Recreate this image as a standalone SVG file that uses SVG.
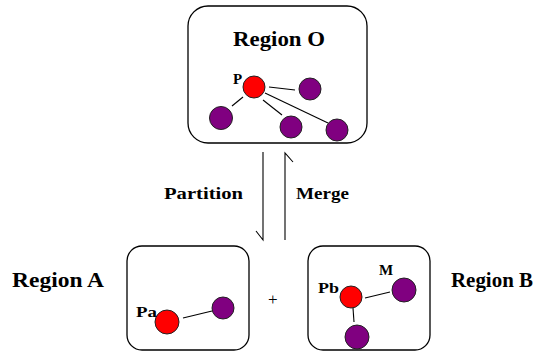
<svg xmlns="http://www.w3.org/2000/svg" width="542" height="351" viewBox="0 0 542 351">
<style>
.box{fill:#fff;stroke:#000;stroke-width:1.3}
.red{fill:#ff0000;stroke:#222;stroke-width:1}
.pur{fill:#800080;stroke:#222;stroke-width:1}
.ln{stroke:#000;stroke-width:1.1;fill:none}
.big{font-family:"Liberation Serif",serif;font-weight:bold;font-size:21px;fill:#000}
.lbl{font-family:"Liberation Serif",serif;font-weight:bold;font-size:16px;fill:#000}
.sm{font-family:"Liberation Serif",serif;font-weight:bold;font-size:15px;fill:#000}
</style>
<rect width="542" height="351" fill="#fff"/>
<g id="regionO">
<rect class="box" x="188" y="6" width="179" height="137" rx="20"/>
<text class="big" x="233" y="46" textLength="92" lengthAdjust="spacingAndGlyphs">Region O</text>
<line class="ln" x1="269" y1="87" x2="295" y2="90"/>
<line class="ln" x1="243" y1="97" x2="232" y2="106"/>
<line class="ln" x1="263" y1="100" x2="282" y2="115"/>
<line class="ln" x1="265" y1="93" x2="328" y2="123"/>
<circle class="red" cx="254" cy="87" r="11"/>
<circle class="pur" cx="310" cy="89" r="11"/>
<circle class="pur" cx="221" cy="118" r="11.5"/>
<circle class="pur" cx="291" cy="127" r="11"/>
<circle class="pur" cx="337" cy="130" r="11"/>
<text class="sm" x="233" y="84">P</text>
</g>
<g id="regionA">
<text class="big" x="12" y="287" textLength="92" lengthAdjust="spacingAndGlyphs">Region A</text>
<rect class="box" x="127" y="246" width="122" height="104" rx="15"/>
<line class="ln" x1="183" y1="318" x2="212" y2="311"/>
<circle class="red" cx="167" cy="322" r="12"/>
<circle class="pur" cx="223" cy="308" r="11"/>
<text class="sm" x="136" y="317" textLength="21" lengthAdjust="spacingAndGlyphs">Pa</text>
</g>
<text id="plus" x="268" y="305" fill="#000" style="font-family:'Liberation Serif',serif;font-size:17px">+</text>
<g id="regionB">
<rect class="box" x="308" y="246" width="122" height="104" rx="15"/>
<line class="ln" x1="365" y1="298" x2="390" y2="292"/>
<line class="ln" x1="353" y1="308" x2="354" y2="322"/>
<circle class="red" cx="351" cy="297" r="11"/>
<circle class="pur" cx="404" cy="290" r="12"/>
<circle class="pur" cx="357" cy="337" r="12"/>
<text class="sm" x="379" y="275">M</text>
<text class="sm" x="318" y="293" textLength="21" lengthAdjust="spacingAndGlyphs">Pb</text>
<text class="big" x="451" y="287" textLength="82" lengthAdjust="spacingAndGlyphs">Region B</text>
</g>
<g id="connectors">
<path class="ln" d="M263 152 V240 L256 231"/>
<path class="ln" d="M285 240 V153 L293 162"/>
<text class="lbl" x="164" y="199" textLength="79" lengthAdjust="spacingAndGlyphs">Partition</text>
<text class="lbl" x="296" y="199" textLength="53" lengthAdjust="spacingAndGlyphs">Merge</text>
</g>
</svg>
